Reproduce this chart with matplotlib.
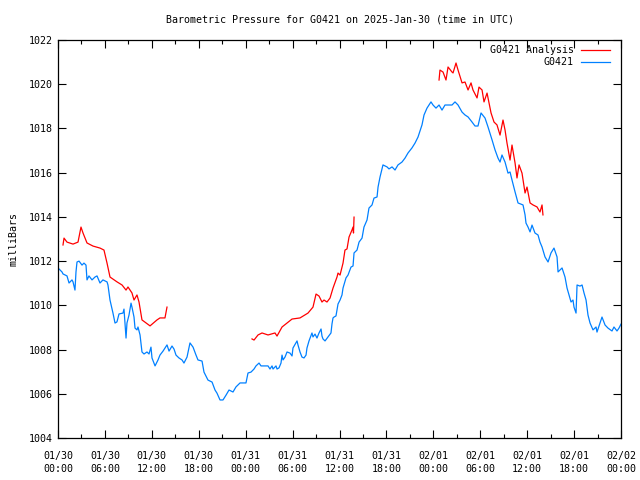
import matplotlib
matplotlib.use("Agg")
import matplotlib.pyplot as plt
from matplotlib.ticker import MultipleLocator
from matplotlib.lines import Line2D

title = "Barometric Pressure for G0421 on 2025-Jan-30 (time in UTC)"
ylabel = "milliBars"
series_names = ["G0421 Analysis", "G0421"]

# hours since 01/30 00:00 UTC
obs_t = [0.00, 0.26, 0.51, 0.64, 1.15, 1.41, 1.79, 1.92, 2.17, 2.30, 2.43, 2.69, 3.07, 3.32, 3.58, 3.71,
         3.96, 4.35, 4.73, 4.99, 5.37, 5.75, 6.27, 6.39, 6.65, 7.03, 7.29, 7.54, 7.80, 8.31, 8.44, 8.70,
         8.82, 9.08, 9.34, 9.46, 9.72, 9.85, 10.10, 10.23, 10.49, 10.74, 11.00, 11.38, 11.64, 11.89, 12.02,
         12.41, 12.79, 13.04, 13.43, 13.94, 14.20, 14.58, 14.84, 15.09, 15.47, 15.86, 16.11, 16.50, 16.88,
         17.27, 17.65, 17.90, 18.42, 18.67, 19.18, 19.70, 20.08, 20.33, 20.72, 21.10, 21.49, 21.87, 22.38,
         22.76, 23.28, 23.66, 24.04, 24.30, 24.68, 25.07, 25.32, 25.71, 25.96, 26.86, 27.11, 27.37, 27.50,
         27.88, 28.01, 28.26, 28.52, 28.65, 28.78, 29.03, 29.29, 29.67, 29.93, 30.05, 30.57, 30.69, 30.95,
         31.20, 31.46, 31.72, 31.84, 32.10, 32.48, 32.61, 32.87, 33.12, 33.38, 33.64, 33.76, 33.89, 34.15,
         34.53, 34.91, 35.04, 35.17, 35.30, 35.55, 35.81, 36.07, 36.32, 36.45, 36.83, 37.09, 37.47, 37.73,
         37.86, 38.24, 38.50, 38.88, 39.13, 39.52, 39.77, 40.16, 40.41, 40.80, 40.93, 41.18, 41.56, 42.08,
         42.33, 42.72, 43.10, 43.48, 43.99, 44.38, 44.76, 45.27, 45.66, 46.04, 46.55, 46.81, 47.19, 47.70,
         47.96, 48.34, 48.73, 49.11, 49.49, 49.88, 50.39, 50.77, 51.16, 51.67, 52.05, 52.44, 52.95, 53.33,
         53.71, 54.10, 54.61, 54.99, 55.51, 55.89, 56.27, 56.53, 56.78, 57.17, 57.55, 57.81, 58.06, 58.45,
         58.83, 59.47, 59.73, 59.85, 60.11, 60.37, 60.62, 61.00, 61.39, 61.64, 61.90, 62.28, 62.67, 63.05,
         63.43, 63.82, 63.95, 64.46, 64.84, 65.10, 65.61, 65.86, 65.99, 66.25, 66.38, 66.76, 67.02, 67.27,
         67.53, 67.78, 68.04, 68.42, 68.81, 68.93, 69.57, 69.96, 70.34, 70.85, 71.10, 71.49, 71.74, 72.00]
obs_p = [1011.69, 1011.60, 1011.51, 1011.42, 1011.33, 1011.01, 1011.15, 1011.06, 1010.69, 1011.51, 1011.96,
         1012.00, 1011.82, 1011.91, 1011.82, 1011.15, 1011.33, 1011.15, 1011.28, 1011.33, 1011.01, 1011.15,
         1011.06, 1010.92, 1010.24, 1009.65, 1009.20, 1009.25, 1009.61, 1009.65, 1009.83, 1008.52, 1009.20,
         1009.56, 1010.10, 1009.92, 1009.47, 1008.97, 1008.89, 1009.02, 1008.66, 1007.89, 1007.80, 1007.89,
         1007.80, 1008.11, 1007.62, 1007.26, 1007.53, 1007.75, 1007.93, 1008.21, 1007.93, 1008.16, 1008.02,
         1007.75, 1007.62, 1007.53, 1007.39, 1007.66, 1008.30, 1008.11, 1007.75, 1007.53, 1007.48, 1006.98,
         1006.62, 1006.53, 1006.17, 1006.03, 1005.72, 1005.72, 1005.94, 1006.17, 1006.08, 1006.31, 1006.49,
         1006.49, 1006.49, 1006.94, 1006.98, 1007.12, 1007.26, 1007.39, 1007.26, 1007.26, 1007.12, 1007.26,
         1007.12, 1007.26, 1007.12, 1007.17, 1007.39, 1007.75, 1007.53, 1007.66, 1007.89, 1007.84, 1007.71,
         1008.07, 1008.39, 1008.21, 1007.89, 1007.66, 1007.62, 1007.75, 1008.07, 1008.39, 1008.75, 1008.57,
         1008.70, 1008.52, 1008.75, 1008.93, 1008.61, 1008.48, 1008.39, 1008.57, 1008.75, 1009.16, 1009.43,
         1009.47, 1009.52, 1010.06, 1010.24, 1010.47, 1010.78, 1011.24, 1011.37, 1011.73, 1011.78, 1012.37,
         1012.50, 1012.86, 1013.04, 1013.54, 1013.86, 1014.40, 1014.54, 1014.85, 1014.90, 1015.35, 1015.80,
         1016.35, 1016.26, 1016.17, 1016.26, 1016.12, 1016.35, 1016.48, 1016.66, 1016.89, 1017.12, 1017.34,
         1017.61, 1018.16, 1018.61, 1018.92, 1019.20, 1019.06, 1018.92, 1019.06, 1018.83, 1019.06, 1019.06,
         1019.06, 1019.20, 1019.06, 1018.74, 1018.61, 1018.52, 1018.29, 1018.11, 1018.11, 1018.70, 1018.47,
         1018.07, 1017.48, 1017.03, 1016.66, 1016.48, 1016.80, 1016.48, 1015.98, 1016.03, 1015.67, 1015.13,
         1014.63, 1014.54, 1014.09, 1013.72, 1013.54, 1013.32, 1013.63, 1013.27, 1013.18, 1012.86, 1012.64,
         1012.19, 1011.96, 1012.37, 1012.59, 1012.19, 1011.51, 1011.69, 1011.28, 1010.78, 1010.15, 1010.24,
         1009.92, 1009.65, 1010.92, 1010.87, 1010.92, 1010.56, 1010.24, 1009.56, 1009.20, 1008.89, 1009.02,
         1008.79, 1009.47, 1009.11, 1008.97, 1008.84, 1009.02, 1008.84, 1008.97, 1009.15]

ana1_t = [0.64, 0.77, 1.15, 1.92, 2.56, 2.94, 3.20, 3.71, 4.48, 5.37, 5.88, 6.27, 6.65, 7.55, 8.19, 8.70,
          8.95, 9.46, 9.72, 10.10, 10.36, 10.74, 11.77, 12.66, 13.04, 13.68, 13.94]
ana1_p = [1012.73, 1013.04, 1012.86, 1012.77, 1012.86, 1013.54, 1013.27, 1012.82, 1012.68, 1012.59, 1012.50,
          1011.91, 1011.28, 1011.06, 1010.92, 1010.69, 1010.83, 1010.56, 1010.24, 1010.47, 1010.15, 1009.34,
          1009.07, 1009.34, 1009.43, 1009.43, 1009.92]
ana2_t = [24.81, 25.07, 25.58, 26.09, 26.86, 27.75, 28.01, 28.65, 29.29, 29.93, 30.95, 31.97, 32.61, 33.00,
          33.38, 33.76, 34.02, 34.40, 34.79, 35.17, 35.68, 35.81, 36.07, 36.45, 36.70, 36.96, 37.22, 37.60,
          37.73, 37.79, 37.86]
ana2_p = [1008.48, 1008.43, 1008.66, 1008.75, 1008.66, 1008.75, 1008.61, 1009.02, 1009.20, 1009.38, 1009.43,
          1009.65, 1009.92, 1010.51, 1010.42, 1010.15, 1010.24, 1010.15, 1010.33, 1010.78, 1011.28, 1011.46,
          1011.37, 1011.91, 1012.50, 1012.55, 1013.09, 1013.41, 1013.54, 1013.27, 1013.99]
ana3_t = [48.73, 48.85, 49.24, 49.62, 49.88, 50.39, 50.52, 50.90, 51.16, 51.67, 52.05, 52.44, 52.82, 53.07,
          53.59, 53.84, 54.23, 54.48, 54.87, 55.38, 55.76, 56.14, 56.53, 56.91, 57.17, 57.42, 57.81, 58.06,
          58.45, 58.70, 58.96, 59.34, 59.73, 59.98, 60.37, 60.75, 61.26, 61.64, 61.90, 62.02]
ana3_p = [1020.19, 1020.64, 1020.55, 1020.19, 1020.78, 1020.55, 1020.51, 1020.96, 1020.64, 1020.06, 1020.10,
          1019.74, 1020.06, 1019.74, 1019.38, 1019.87, 1019.74, 1019.20, 1019.60, 1018.70, 1018.29, 1018.16,
          1017.70, 1018.38, 1017.93, 1017.34, 1016.57, 1017.25, 1016.44, 1015.76, 1016.35, 1015.98, 1015.08,
          1015.35, 1014.63, 1014.54, 1014.45, 1014.22, 1014.54, 1014.09]

tick_dates = ["01/30", "01/30", "01/30", "01/30", "01/31", "01/31", "01/31", "01/31",
              "02/01", "02/01", "02/01", "02/01", "02/02"]
tick_times = ["00:00", "06:00", "12:00", "18:00", "00:00", "06:00", "12:00", "18:00",
              "00:00", "06:00", "12:00", "18:00", "00:00"]
tick_hours = [6 * i for i in range(len(tick_dates))]
y_ticks = [1004, 1006, 1008, 1010, 1012, 1014, 1016, 1018, 1020, 1022]

RED = "#ff0000"
BLUE = "#0080ff"
FONT = "DejaVu Sans Mono"
FS = 7.2

fig = plt.figure(figsize=(6.4, 4.8), dpi=100)
ax = fig.add_axes([58 / 640, 42 / 480, 563 / 640, 398 / 480])

lw = 0.9
ax.plot(ana1_t, ana1_p, color=RED, lw=lw)
ax.plot(ana2_t, ana2_p, color=RED, lw=lw)
ax.plot(ana3_t, ana3_p, color=RED, lw=lw)
ax.plot(obs_t, obs_p, color=BLUE, lw=lw)

ax.set_xlim(0, 72)
ax.set_ylim(1004, 1022)
ax.set_xticks(tick_hours)
ax.set_xticklabels([d + "\n" + t for d, t in zip(tick_dates, tick_times)],
                   fontfamily=FONT, fontsize=FS, linespacing=1.45)
ax.xaxis.set_minor_locator(MultipleLocator(3))
ax.set_yticks(y_ticks)
ax.set_yticklabels([str(v) for v in y_ticks], fontfamily=FONT, fontsize=FS)

ax.tick_params(axis="x", which="major", direction="in", length=6, width=0.8,
               top=True, pad=9, colors="black")
ax.tick_params(axis="y", which="major", direction="in", length=6, width=0.8,
               right=True, pad=4, colors="black")
ax.tick_params(axis="x", which="minor", direction="in", length=3, width=0.8, top=True)
for s in ax.spines.values():
    s.set_linewidth(0.9)

fig.text(0.5 * (58 + 621) / 640, 1 - 19 / 480, title, fontfamily=FONT, fontsize=FS,
         ha="center", va="center")
ax.set_ylabel(ylabel, fontfamily=FONT, fontsize=FS, labelpad=7)

# legend (gnuplot style: right-aligned text, line sample to the right)
leg_y = [1 - 10 / 398, 1 - 22.5 / 398]
for name, col, yy in zip(series_names, [RED, BLUE], leg_y):
    ax.text((574 - 58) / 563, yy, name, transform=ax.transAxes, ha="right", va="center",
            fontfamily=FONT, fontsize=FS)
    ax.add_line(Line2D([(581 - 58) / 563, (610 - 58) / 563], [yy, yy], transform=ax.transAxes,
                       color=col, lw=lw))

fig.savefig("out.png", dpi=100)
